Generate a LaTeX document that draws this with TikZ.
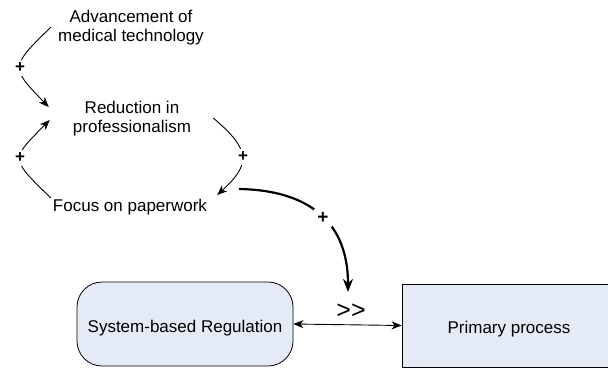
\documentclass[tikz,border=0pt]{standalone}
\usepackage{fontspec}
\setmainfont{Liberation Sans}
\usetikzlibrary{arrows.meta}
\definecolor{boxfill}{RGB}{228,234,246}
\begin{document}
\begin{tikzpicture}[x=1pt,y=-1pt,
  every node/.style={font=\fontsize{17}{19}\selectfont, inner sep=0pt},
  lbl/.style={align=center},
  sign/.style={fill=white, inner sep=3pt, font=\fontsize{17}{19}\selectfont\bfseries},
  link/.style={line width=0.9pt, -{Stealth[length=10pt,width=8pt,inset=3pt]}},
  strong/.style={line width=2.2pt, -{Stealth[length=13pt,width=10pt,inset=4pt]}},
  both/.style={line width=0.9pt, {Stealth[length=10pt,width=8pt,inset=3pt]}-{Stealth[length=10pt,width=8pt,inset=3pt]}},
  box/.style={draw, line width=0.8pt, fill=boxfill, text height=16pt, text depth=0pt}]
\useasboundingbox (0,0) rectangle (608,368);

% causal loop labels
\node[lbl] (adv) at (131,28) {Advancement of\\medical technology};
\node[lbl] (red) at (132,119) {Reduction in\\professionalism};
\node (focus) at (130,207) {Focus on paperwork};

% lower boxes
\node[box, rounded corners=25pt, minimum width=216pt, minimum height=84pt] (sbr) at (185,324) {System-based Regulation};
\node[box, minimum width=214pt, minimum height=83pt] (pp) at (509,325.5) {Primary process};
\node[font=\fontsize{25}{25}\selectfont] (gt) at (351,311) {{>}{>}};
\coordinate (tip) at (348,292);

% causal links
\draw[link] ([shift={(-7,-1)}]adv.west) .. controls (10,67) and (10,67) .. ([shift={(-24,-12)}]red.west);
\draw[link] ([shift={(-2,-9)}]focus.west) .. controls (10,158) and (10,160) .. ([shift={(-23,1)}]red.west);
\draw[link] ([shift={(22,-1)}]red.east) .. controls (251,150) and (251,164) .. ([shift={(10,-12)}]focus.east);
\draw[strong] ([shift={(32,-18)}]focus.east) .. controls (300,190) and (348,215) .. (tip);
\draw[both] (sbr.east) -- (pp.west);

% polarity signs
\node[sign] at (20,68) {+};
\node[sign] at (20,158) {+};
\node[sign] at (243,157) {+};
\node[sign, font=\fontsize{19}{21}\selectfont\bfseries] at (323,218) {+};
\end{tikzpicture}
\end{document}
